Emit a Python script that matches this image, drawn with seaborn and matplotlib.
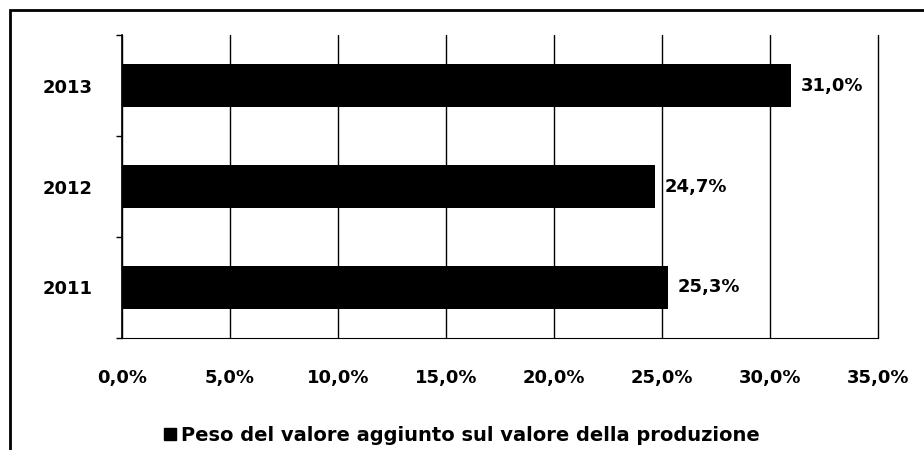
import matplotlib
matplotlib.use("Agg")
import matplotlib.pyplot as plt
import matplotlib.patches as mpatches
from matplotlib.ticker import FixedLocator, FuncFormatter
import seaborn as sns
import pandas as pd

# ── dati ────────────────────────────────────────────
anni = ["2013", "2012", "2011"]
valori = [31.0, 24.7, 25.3]
x_ticks = [0, 5, 10, 15, 20, 25, 30, 35]
serie = "Peso del valore aggiunto sul valore della produzione"

df = pd.DataFrame({"anno": anni, "valore": valori})

sns.set_style("white")
plt.rcParams["font.family"] = ["DejaVu Sans"]

fig = plt.figure(figsize=(9.24, 4.5), dpi=100)
ax = fig.add_axes([0.132, 0.249, 0.818, 0.673])

sns.barplot(data=df, x="valore", y="anno", order=anni, color="black",
            width=0.42, orient="h", ax=ax, zorder=3, linewidth=0)

ax.set_xlim(0, 35)
ax.set_ylim(2.5, -0.5)
ax.xaxis.set_major_locator(FixedLocator(x_ticks))
ax.xaxis.set_major_formatter(FuncFormatter(lambda v, p: f"{v:.1f}%".replace(".", ",")))
ax.grid(axis="x", color="black", linewidth=1.0, zorder=0)
for gl in ax.get_xgridlines():
    gl.set_clip_on(False)
ax.set_xlabel("")
ax.set_ylabel("")

for s in ["top", "right"]:
    ax.spines[s].set_visible(False)
ax.spines["left"].set_color("black")
ax.spines["left"].set_linewidth(1.2)
ax.spines["bottom"].set_color("black")
ax.spines["bottom"].set_linewidth(0.8)
ax.spines["bottom"].set_linestyle((0, (4, 1)))

ax.tick_params(axis="x", direction="out", length=4, width=1, colors="black",
               labelsize=13, pad=18)
ax.tick_params(axis="y", which="major", length=0, labelsize=13, pad=21,
               labelcolor="black")
ax.yaxis.set_minor_locator(FixedLocator([-0.5, 0.5, 1.5, 2.5]))
ax.tick_params(axis="y", which="minor", direction="out", length=4, width=1,
               color="black", left=True)
for lab in ax.get_xticklabels() + ax.get_yticklabels():
    lab.set_fontweight("bold")

for i, v in enumerate(valori):
    ax.text(v + 0.45, i, f"{v:.1f}%".replace(".", ","), va="center", ha="left",
            fontsize=13, fontweight="bold", color="black")

# legenda
handle = mpatches.Patch(color="black", label=serie)
leg = fig.legend(handles=[handle], loc="center", bbox_to_anchor=(0.5, 0.033),
                 frameon=False, prop={"weight": "bold", "size": 14},
                 handlelength=0.6, handleheight=0.6, handletextpad=0.3)
for t in leg.get_texts():
    t.set_color("black")

# cornice esterna
fig.patches.append(mpatches.Rectangle((0.011, -0.01), 1.2, 0.988, transform=fig.transFigure,
                                      fill=False, edgecolor="black", linewidth=2))

fig.savefig("out.png", dpi=100, facecolor="white")
